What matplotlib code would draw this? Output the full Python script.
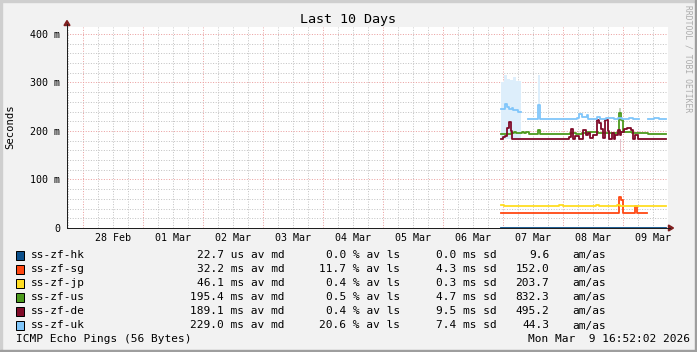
import numpy as np
import matplotlib
matplotlib.use('Agg')
import matplotlib.pyplot as plt
from matplotlib.patches import Polygon, Rectangle
from matplotlib.lines import Line2D

plt.rcParams['font.family'] = ['DejaVu Sans Mono']

W, H = 697, 352
nan = np.nan

# time axis: hours since 07 Mar 2026 00:00, values in ms
day_labels = ['28 Feb', '01 Mar', '02 Mar', '03 Mar', '04 Mar',
              '05 Mar', '06 Mar', '07 Mar', '08 Mar', '09 Mar']

hk_h = [-0.8, 65.2]
hk_v = [0.0227, 0.0227]

sg_h = [-0.8, 46.4, 47.0, 47.9, 52.8, 53.5, 57.5]
sg_v = [30.5, 64, 57, 30.5, 45, 30.5, 30.5]

jp_h = [-0.8, -0.2, 0.4, 22.2, 24.0, 37.2, 38.4, 45.4, 46.8, 65.2]
jp_v = [48, 47, 45.5, 47.5, 45.5, 47.5, 45.5, 47.5, 45.5, 45.5]

us_h = [-0.8, 3.2, 4.4, 5.2, 7.5, 8.2, 9.2, 10.2, 14.0, 14.8, 26.8, 29.0,
        31.5, 33.6, 37.8, 39.0, 46.4, 47.2, 47.9, 51.5, 58.0, 65.2]
us_v = [193, 196, 198, 196, 198, 195, 198, 193, 202, 193, 196, 194,
        196, 198, 196, 195, 238, 222, 197, 195, 193, 193]

de_h = [-0.8, 0.0, 0.8, 1.6, 2.4, 3.2, 3.6, 26.5, 27.1, 27.9, 28.8, 30.5,
        32.1, 33.2, 33.9, 34.8, 35.9, 37.5, 38.5, 39.1, 39.9, 40.8, 41.9,
        42.4, 43.5, 44.5, 44.8, 45.9, 46.7, 47.2, 48.5, 49.5, 51.2, 51.9,
        52.8, 53.9, 65.2]
de_v = [183, 188, 190, 206, 218, 200, 183, 188, 205, 183, 190, 183,
        203, 192, 196, 185, 192, 222, 216, 205, 185, 222, 200,
        183, 195, 183, 192, 202, 192, 198, 205, 207, 202, 183,
        192, 183, 183]

uk_h = [-0.8, 0.8, 1.7, 2.4, 3.5, 4.1, 5.1, 5.9, 7.2, 10.1, 14.1, 14.9,
        18.0, 22.0, 25.5, 29.5, 30.5, 31.5, 33.5, 34.0, 37.5, 38.8, 41.0,
        44.5, 46.0, 47.5, 50.5, 52.0, 54.3, 57.8, 60.5, 62.5, 65.2]
uk_v = [245, 255, 249, 245, 248, 243, 244, 240, nan, 225, 253, 225,
        224, 225, 224, 227, 235, 228, 232, 225, 228, 225, 227,
        224, 226, 224, 227, 225, nan, 224, 227, 225, 225]

# smoke (min/max spread)
uk_smoke_h = [-0.8, 0.4, 1.7, 2.8, 4.1, 5.1, 7.2, 7.2, 14.1, 14.9]
uk_smoke_lo = [183, 183, 183, 183, 183, 183, 183, nan, 225, 225]
uk_smoke_hi = [300, 315, 308, 306, 312, 304, 304, nan, 315, 315]
us_smoke_h = [46.4, 47.0]
us_smoke_lo = [238, 238]
us_smoke_hi = [248, 248]
de_smoke_h = [46.6, 47.0]
de_smoke_lo = [156, 156]
de_smoke_hi = [183, 183]

names = ['ss-zf-hk', 'ss-zf-sg', 'ss-zf-jp', 'ss-zf-us', 'ss-zf-de', 'ss-zf-uk']
colors = ['#0B4F8A', '#FF4812', '#FFDD22', '#4C9A1C', '#7F0A28', '#80C6FA']
median = [22.7, 32.2, 46.1, 195.4, 189.1, 229.0]
median_unit = ['us', 'ms', 'ms', 'ms', 'ms', 'ms']
loss = [0.0, 11.7, 0.4, 0.5, 0.4, 20.6]
sdev = [0.0, 4.3, 0.3, 4.7, 9.5, 7.4]
amas = [9.6, 152.0, 203.7, 832.3, 495.2, 44.3]


def fx(x):
    return x / W


def fy(y):
    return 1 - y / H


fig = plt.figure(figsize=(W / 100, H / 100), dpi=100, facecolor='#F2F2F2')
ax = fig.add_axes([fx(67), fy(228), (668 - 67) / W, (228 - 27) / H])
ax.set_facecolor('white')
x0, x1 = -174.4, 66.0
y0, y1 = 0, 414.4
ax.set_xlim(x0, x1)
ax.set_ylim(y0, y1)

# grid
minor_c = '#C4C4C4'
major_c = '#EBA0A0'
for hh in range(-174, 67, 6):
    c = major_c if hh % 24 == 0 else minor_c
    ax.axvline(hh, color=c, lw=0.72, ls=(0, (1, 1.6)), zorder=0.5)
for v in range(20, 401, 20):
    c = major_c if v % 100 == 0 else minor_c
    ax.axhline(v, color=c, lw=0.72, ls=(0, (1, 1.6)), zorder=0.5)

# smoke
ax.fill_between(uk_smoke_h, uk_smoke_lo, uk_smoke_hi, step='post',
                color='#DDEEFB', lw=0, zorder=1)
ax.fill_between(us_smoke_h, us_smoke_lo, us_smoke_hi, step='post',
                color='#CCD5C4', lw=0, zorder=1)
ax.fill_between(de_smoke_h, de_smoke_lo, de_smoke_hi, step='post',
                color='#E6C2CA', lw=0, zorder=1)

series = [(hk_h, hk_v), (sg_h, sg_v), (jp_h, jp_v),
          (us_h, us_v), (de_h, de_v), (uk_h, uk_v)]
for (hx, vy), c in zip(series, colors):
    ax.step(hx, vy, where='post', color=c, lw=1.3, zorder=2)

# ticks
ax.set_yticks([0, 100, 200, 300, 400])
ax.set_yticklabels(['0', '100 m', '200 m', '300 m', '400 m'])
label_h = [(-7 + i) * 24 + 12 for i in range(len(day_labels))]
ax.set_xticks(label_h)
ax.set_xticklabels(day_labels)
ax.tick_params(axis='both', length=0, labelsize=7.2)
ax.tick_params(axis='y', pad=5)
ax.tick_params(axis='x', pad=3.5)

for s in ['top', 'right']:
    ax.spines[s].set_visible(False)
for s in ['left', 'bottom']:
    ax.spines[s].set_color('#1F1F1F')
    ax.spines[s].set_linewidth(0.72)
    ax.spines[s].set_zorder(3)

# axis extensions and arrows
fig.add_artist(Line2D([fx(67), fx(67)], [fy(27), fy(24)], color='#1F1F1F',
                      lw=0.72, transform=fig.transFigure))
fig.add_artist(Line2D([fx(668), fx(670)], [fy(228), fy(228)], color='#1F1F1F',
                      lw=0.72, transform=fig.transFigure))
arrow_c = '#801F1F'
fig.add_artist(Polygon([(fx(67), fy(20.5)), (fx(64), fy(25.5)), (fx(70), fy(25.5))],
                       closed=True, color=arrow_c, transform=fig.transFigure))
fig.add_artist(Polygon([(fx(673.5), fy(228)), (fx(668.5), fy(225)), (fx(668.5), fy(231))],
                       closed=True, color=arrow_c, transform=fig.transFigure))

# texts
fig.text(fx(348), fy(19), 'Last 10 Days', ha='center', va='center', fontsize=9.6)
fig.text(fx(10), fy(127), 'Seconds', rotation=90, ha='center', va='center', fontsize=7.6)
fig.text(fx(688), fy(59), 'RRDTOOL / TOBI OETIKER', rotation=-90, ha='center',
         va='center', fontsize=5.8, color='#ACACAC')

# legend
fs = 8
for i, name in enumerate(names):
    yc = 255 + 14.1 * i
    fig.add_artist(Rectangle((fx(15.5), fy(yc + 4.5)), 8 / W, 9 / H,
                             facecolor=colors[i], edgecolor='black', lw=0.72,
                             transform=fig.transFigure))
    fig.text(fx(31), fy(yc), name, ha='left', va='center', fontsize=fs)
    fig.text(fx(285), fy(yc), f'{median[i]:.1f} {median_unit[i]} av md',
             ha='right', va='center', fontsize=fs)
    fig.text(fx(400), fy(yc), f'{loss[i]:.1f} % av ls', ha='right', va='center', fontsize=fs)
    fig.text(fx(497), fy(yc), f'{sdev[i]:.1f} ms sd', ha='right', va='center', fontsize=fs)
    fig.text(fx(549), fy(yc), f'{amas[i]:.1f}', ha='right', va='center', fontsize=fs)
    fig.text(fx(572), fy(yc), 'am/as', ha='left', va='center', fontsize=fs)

fig.text(fx(16), fy(339.5), 'ICMP Echo Pings (56 Bytes)', ha='left', va='center', fontsize=fs)
fig.text(fx(690), fy(339.5), 'Mon Mar  9 16:52:02 2026', ha='right', va='center', fontsize=fs)

# frame shading
fig.add_artist(Rectangle((0, fy(2)), 1, 2 / H, color='#CFCFCF', transform=fig.transFigure))
fig.add_artist(Rectangle((0, 0), 2 / W, 1, color='#CFCFCF', transform=fig.transFigure))
fig.add_artist(Rectangle((0, 0), 1, 2 / H, color='#9E9E9E', transform=fig.transFigure))
fig.add_artist(Rectangle((fx(695), 0), 2 / W, 1, color='#9E9E9E', transform=fig.transFigure))

fig.savefig('out.png', dpi=100, facecolor='#F2F2F2')
